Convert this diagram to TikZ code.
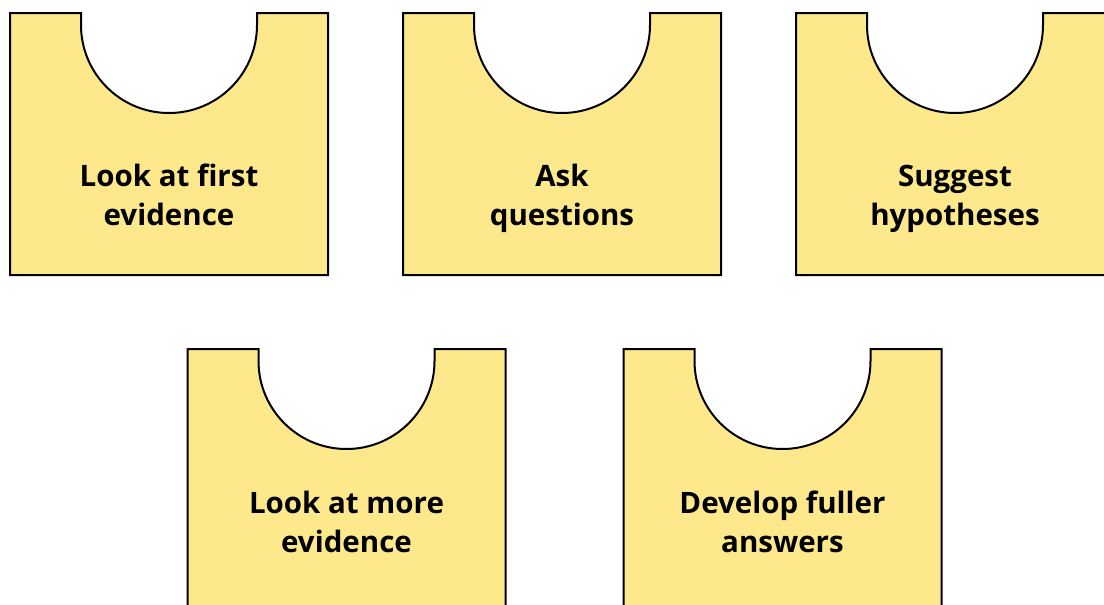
\documentclass[tikz,border=0pt]{standalone}
\usepackage{fontspec}
\setmainfont{Open Sans}
\usepackage{tikz}

\definecolor{cardyellow}{RGB}{253,233,140}

\tikzset{
  cardline/.style={draw=black, fill=cardyellow, line width=2pt, line join=miter},
  cardtext/.style={align=center, anchor=base, font=\fontsize{29.5}{39}\selectfont\bfseries, inner sep=0pt}
}

% one card: [text drop], shift, name, text
\newcommand{\card}[4][-81]{%
  \begin{scope}[shift={#2}]
    \draw[cardline] (-159,131) -- (-88,131) -- (-88,119)
      arc[start angle=180, end angle=360, radius=88] -- (88,131)
      -- (159,131) -- (159,-131) -- (-159,-131) -- cycle;
    \node[cardtext] (#3) at (0,#1) {#4};
  \end{scope}}

\begin{document}
\begin{tikzpicture}[x=1pt, y=1pt]
  \clip (0,0) rectangle (1104,-605);
  \useasboundingbox (0,0) rectangle (1104,-605);
  \card{(169,-144)}{first}{Look at first\\evidence}
  \card{(562,-144)}{ask}{Ask\\questions}
  \card{(955,-144)}{suggest}{Suggest\\hypotheses}
  \card[-72]{(346.5,-480)}{more}{Look at more\\evidence}
  \card[-72]{(782.5,-480)}{fuller}{Develop fuller\\answers}
\end{tikzpicture}
\end{document}
